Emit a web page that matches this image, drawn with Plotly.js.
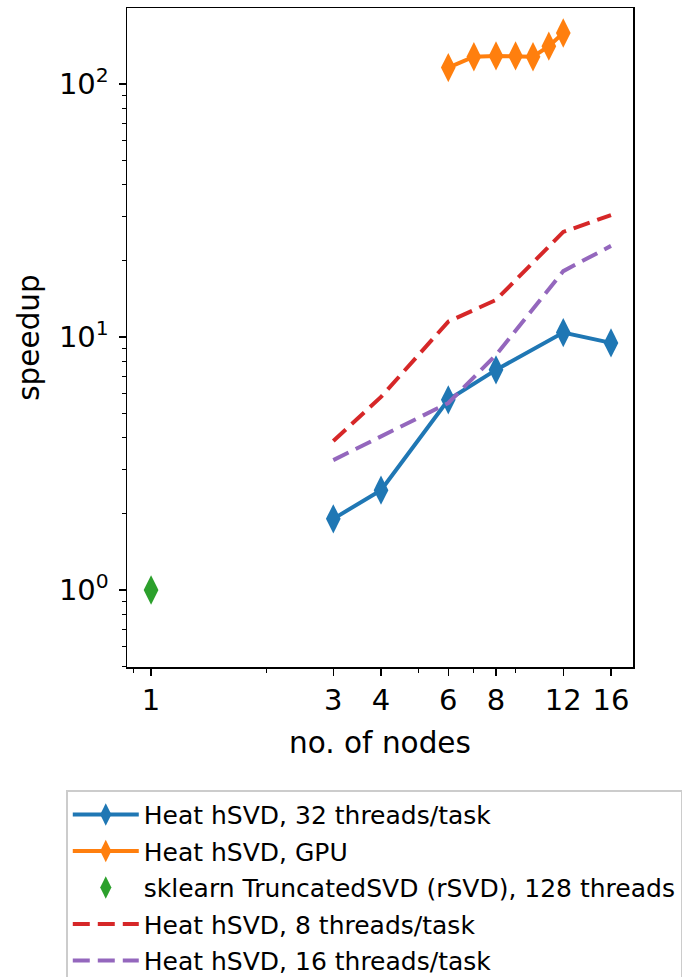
<!DOCTYPE html>
<html>
<head>
<meta charset="utf-8">
<script src="https://cdn.plot.ly/plotly-3.0.1.min.js"></script>
<style>html,body{margin:0;padding:0;background:#fff;overflow:hidden;}</style>
</head>
<body>
<div id="chart" style="width:684px;height:977px;"></div>
<script>
// Data
const nodesCPU = [3, 4, 6, 8, 12, 16];
const speedup32 = [1.91, 2.48, 5.64, 7.41, 10.4, 9.47];
const nodesGPU = [6, 7, 8, 9, 10, 11, 12];
const speedupGPU = [116, 128, 129, 129, 128, 141, 159];
const nodesSklearn = [1];
const speedupSklearn = [1.0];
const speedup8 = [3.88, 5.79, 11.5, 14.0, 26.0, 30.3];
const speedup16 = [3.26, 4.03, 5.48, 8.49, 18.2, 22.9];

const xTickVals = [1, 3, 4, 6, 8, 12, 16];
const xTickText = ['1', '3', '4', '6', '8', '12', '16'];
const xMinorVals = [0.9, 2, 5, 7, 9];
const yTickVals = [1, 10, 100];
const yTickText = ['10<sup>0</sup>', '10<sup>1</sup>', '10<sup>2</sup>'];
const yMinorVals = [0.5, 0.6, 0.7, 0.8, 0.9, 2, 3, 4, 5, 6, 7, 8, 9, 20, 30, 40, 50, 60, 70, 80, 90];

const names = [
  'Heat hSVD, 32 threads/task',
  'Heat hSVD, GPU',
  'sklearn TruncatedSVD (rSVD), 128 threads',
  'Heat hSVD, 8 threads/task',
  'Heat hSVD, 16 threads/task'
];

const mk = {symbol: 'diamond-tall', size: 21, line: {width: 0}};

const traces = [
  {x: nodesCPU, y: speedup32, name: names[0], legendgroup: 'a', mode: 'lines+markers',
   line: {color: '#1f77b4', width: 4}, marker: Object.assign({color: '#1f77b4'}, mk)},
  {x: nodesGPU, y: speedupGPU, name: names[1], legendgroup: 'b', mode: 'lines+markers',
   line: {color: '#ff7f0e', width: 4}, marker: Object.assign({color: '#ff7f0e'}, mk)},
  {x: nodesSklearn, y: speedupSklearn, name: names[2], legendgroup: 'c', mode: 'markers',
   marker: Object.assign({color: '#2ca02c'}, mk)},
  {x: nodesCPU, y: speedup8, name: names[3], legendgroup: 'd', mode: 'lines',
   line: {color: '#d62728', width: 4, dash: '17px,8px'}},
  {x: nodesCPU, y: speedup16, name: names[4], legendgroup: 'e', mode: 'lines',
   line: {color: '#9467bd', width: 4, dash: '17px,8px'}}
];

const font = {family: 'DejaVu Sans, sans-serif', color: '#000'};

const layout = {
  width: 684, height: 977,
  margin: {l: 127, r: 51, t: 8, b: 310, autoexpand: false},
  paper_bgcolor: '#fff', plot_bgcolor: '#fff',
  font: Object.assign({size: 29}, font),
  showlegend: true,
  xaxis: {
    type: 'log',
    range: [Math.log10(0.865), Math.log10(18.27)],
    tickmode: 'array', tickvals: xTickVals, ticktext: xTickText,
    ticks: 'outside', ticklen: 7, tickwidth: 1.5, tickcolor: '#000',
    showline: true, linecolor: '#000', linewidth: 1.5, mirror: true,
    showgrid: false, zeroline: false,
    tickfont: {size: 29},
    minor: {tickmode: 'array', tickvals: xMinorVals, ticks: 'outside', ticklen: 4, tickwidth: 1, tickcolor: '#000', showgrid: false},
    title: {text: 'no. of nodes', font: {size: 29.5}, standoff: 16}
  },
  yaxis: {
    type: 'log',
    range: [Math.log10(0.496), Math.log10(199.5)],
    tickmode: 'array', tickvals: yTickVals, ticktext: yTickText,
    ticks: 'outside', ticklen: 7, tickwidth: 1.5, tickcolor: '#000',
    showline: true, linecolor: '#000', linewidth: 1.5, mirror: true,
    showgrid: false, zeroline: false,
    tickfont: {size: 29},
    ticklabelstandoff: 4,
    minor: {tickmode: 'array', tickvals: yMinorVals, ticks: 'outside', ticklen: 4, tickwidth: 1, tickcolor: '#000', showgrid: false},
    title: {text: 'speedup', font: {size: 29.5}, standoff: 10}
  },
  legend: {
    x: -0.12, y: -0.187, xanchor: 'left', yanchor: 'top',
    bgcolor: '#fff', bordercolor: '#cccccc', borderwidth: 1.5,
    font: Object.assign({size: 25}, font),
    tracegroupgap: 1, itemwidth: 66
  }
};

Plotly.newPlot('chart', traces, layout, {displayModeBar: false, staticPlot: true});
</script>
</body>
</html>
